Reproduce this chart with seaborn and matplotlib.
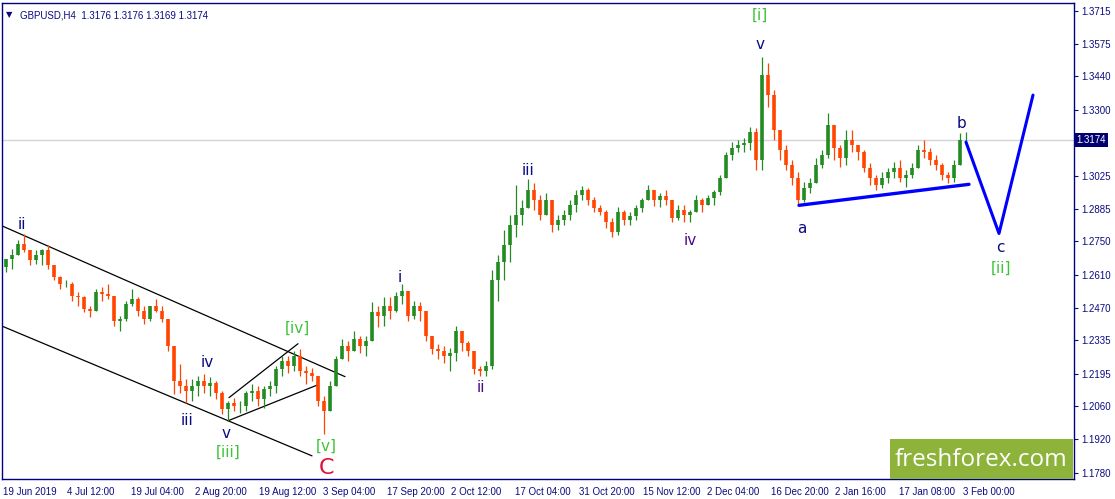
import numpy as np
import pandas as pd
import matplotlib
matplotlib.use("Agg")
import matplotlib.pyplot as plt
from matplotlib.patches import Rectangle
import seaborn as sns

# GBPUSD H4, grouped into blocks of 6 bars (one trading day)
first_open = 1.2640
high = [1.2677, 1.2719, 1.2753, 1.2778, 1.2711, 1.2711, 1.2715, 1.2732, 1.2652, 1.2602,
        1.2589, 1.2577, 1.2535, 1.2522, 1.2480, 1.2551, 1.2556, 1.2572, 1.2522, 1.2438,
        1.2501, 1.2551, 1.2514, 1.2480, 1.2480, 1.2509, 1.2476, 1.2425, 1.2312, 1.2236,
        1.2173, 1.2173, 1.2186, 1.2194, 1.2182, 1.2165, 1.2123, 1.2081, 1.2094, 1.2081,
        1.2123, 1.2152, 1.2144, 1.2144, 1.2165, 1.2228, 1.2270, 1.2270, 1.2291, 1.2299,
        1.2228, 1.2220, 1.2186, 1.2102, 1.2165, 1.2270, 1.2341, 1.2333, 1.2375, 1.2354,
        1.2354, 1.2493, 1.2480, 1.2514, 1.2514, 1.2535, 1.2572, 1.2522, 1.2501, 1.2493,
        1.2409, 1.2354, 1.2320, 1.2312, 1.2304, 1.2396, 1.2354, 1.2333, 1.2291, 1.2228,
        1.2249, 1.2627, 1.2690, 1.2795, 1.2858, 1.2984, 1.2921, 1.3009, 1.2992, 1.2942,
        1.2950, 1.2900, 1.2858, 1.2879, 1.2921, 1.2963, 1.2980, 1.2971, 1.2934, 1.2900,
        1.2879, 1.2845, 1.2892, 1.2879, 1.2871, 1.2900, 1.2929, 1.2984, 1.2963, 1.2950,
        1.2963, 1.2921, 1.2900, 1.2900, 1.2879, 1.2942, 1.2929, 1.2942, 1.2963, 1.3026,
        1.3123, 1.3165, 1.3173, 1.3181, 1.3228, 1.3223, 1.3522, 1.3496, 1.3383, 1.3215,
        1.3152, 1.3089, 1.3039, 1.2997, 1.3013, 1.3097, 1.3131, 1.3286, 1.3236, 1.3152,
        1.3215, 1.3215, 1.3152, 1.3131, 1.3076, 1.3026, 1.3039, 1.3055, 1.3081, 1.3089,
        1.3047, 1.3076, 1.3152, 1.3173, 1.3139, 1.3110, 1.3076, 1.3039, 1.3089, 1.3202,
        1.3207]
low = [1.2619, 1.2635, 1.2690, 1.2703, 1.2652, 1.2656, 1.2652, 1.2635, 1.2585, 1.2551,
       1.2556, 1.2501, 1.2480, 1.2451, 1.2430, 1.2480, 1.2501, 1.2509, 1.2396, 1.2375,
       1.2417, 1.2480, 1.2438, 1.2404, 1.2417, 1.2451, 1.2409, 1.2291, 1.2110, 1.2115,
       1.2073, 1.2081, 1.2102, 1.2115, 1.2102, 1.2089, 1.2026, 1.1997, 1.2039, 1.2031,
       1.2039, 1.2081, 1.2060, 1.2052, 1.2102, 1.2115, 1.2186, 1.2199, 1.2207, 1.2186,
       1.2152, 1.2165, 1.2060, 1.1942, 1.2039, 1.2144, 1.2270, 1.2249, 1.2312, 1.2283,
       1.2270, 1.2333, 1.2388, 1.2396, 1.2425, 1.2451, 1.2488, 1.2417, 1.2425, 1.2417,
       1.2333, 1.2278, 1.2257, 1.2241, 1.2207, 1.2249, 1.2291, 1.2270, 1.2194, 1.2186,
       1.2186, 1.2215, 1.2501, 1.2585, 1.2661, 1.2766, 1.2816, 1.2900, 1.2879, 1.2837,
       1.2871, 1.2787, 1.2795, 1.2816, 1.2837, 1.2871, 1.2921, 1.2900, 1.2871, 1.2858,
       1.2803, 1.2766, 1.2774, 1.2816, 1.2816, 1.2837, 1.2871, 1.2921, 1.2896, 1.2892,
       1.2900, 1.2829, 1.2837, 1.2829, 1.2829, 1.2871, 1.2871, 1.2900, 1.2900, 1.2942,
       1.3013, 1.3089, 1.3123, 1.3123, 1.3131, 1.3047, 1.3047, 1.3312, 1.3173, 1.3089,
       1.3047, 1.2984, 1.2900, 1.2913, 1.2950, 1.2992, 1.3055, 1.3097, 1.3089, 1.3060,
       1.3068, 1.3123, 1.3089, 1.3039, 1.2984, 1.2963, 1.2971, 1.2992, 1.3013, 1.2997,
       1.2976, 1.3013, 1.3055, 1.3097, 1.3068, 1.3047, 1.3005, 1.2992, 1.2997, 1.3068,
       1.3160]
close = [1.2677, 1.2690, 1.2740, 1.2711, 1.2669, 1.2690, 1.2711, 1.2648, 1.2598, 1.2572,
         1.2572, 1.2522, 1.2514, 1.2467, 1.2459, 1.2535, 1.2530, 1.2518, 1.2417, 1.2425,
         1.2488, 1.2509, 1.2459, 1.2425, 1.2476, 1.2459, 1.2425, 1.2312, 1.2165, 1.2144,
         1.2123, 1.2144, 1.2165, 1.2144, 1.2157, 1.2115, 1.2047, 1.2073, 1.2060, 1.2060,
         1.2115, 1.2123, 1.2089, 1.2131, 1.2144, 1.2215, 1.2249, 1.2228, 1.2270, 1.2207,
         1.2199, 1.2186, 1.2081, 1.2039, 1.2144, 1.2257, 1.2312, 1.2291, 1.2341, 1.2312,
         1.2333, 1.2451, 1.2438, 1.2480, 1.2459, 1.2518, 1.2543, 1.2438, 1.2480, 1.2459,
         1.2354, 1.2299, 1.2291, 1.2270, 1.2283, 1.2375, 1.2325, 1.2291, 1.2215, 1.2207,
         1.2228, 1.2585, 1.2661, 1.2732, 1.2816, 1.2858, 1.2887, 1.2963, 1.2921, 1.2858,
         1.2921, 1.2816, 1.2837, 1.2858, 1.2900, 1.2942, 1.2963, 1.2921, 1.2887, 1.2871,
         1.2829, 1.2787, 1.2871, 1.2837, 1.2854, 1.2887, 1.2921, 1.2963, 1.2921, 1.2938,
         1.2921, 1.2845, 1.2879, 1.2858, 1.2871, 1.2921, 1.2900, 1.2929, 1.2955, 1.3013,
         1.3110, 1.3139, 1.3152, 1.3160, 1.3207, 1.3089, 1.3446, 1.3362, 1.3215, 1.3131,
         1.3068, 1.3013, 1.2921, 1.2971, 1.2992, 1.3068, 1.3110, 1.3236, 1.3139, 1.3097,
         1.3173, 1.3152, 1.3123, 1.3055, 1.3013, 1.2984, 1.3013, 1.3039, 1.3055, 1.3013,
         1.3026, 1.3055, 1.3131, 1.3123, 1.3089, 1.3068, 1.3026, 1.3013, 1.3068, 1.3173,
         1.3174]

date_labels = ["19 Jun 2019", "4 Jul 12:00", "19 Jul 04:00", "2 Aug 20:00", "19 Aug 12:00",
               "3 Sep 04:00", "17 Sep 20:00", "2 Oct 12:00", "17 Oct 04:00", "31 Oct 20:00",
               "15 Nov 12:00", "2 Dec 04:00", "16 Dec 20:00", "2 Jan 16:00", "17 Jan 08:00",
               "3 Feb 00:00"]
price_ticks = [1.3715, 1.3575, 1.3440, 1.3300, 1.3025, 1.2885, 1.2750, 1.2610,
               1.2470, 1.2335, 1.2195, 1.2060, 1.1920, 1.1780]
last_price = 1.3174
header = "GBPUSD,H4  1.3176 1.3176 1.3169 1.3174"

# trend lines drawn on the chart (bar index, price)
channel_top = ([0, 342], [1.2812, 1.2182])
channel_bottom = ([0, 309], [1.2392, 1.1850])
wedge_top = ([226, 295], [1.2094, 1.2320])
wedge_bottom = ([225, 315], [1.1997, 1.2148])
abc_base = ([796, 966], [1.2900, 1.2988])
projection = ([963, 996, 1030], [1.3165, 1.2782, 1.3362])

BARS_PER_BLOCK = 6
NAVY = "#0b0b80"
LIME = "#3ec43a"
GREEN_UP = "#228b22"
RED_DOWN = "#ff4500"

df = pd.DataFrame({"high": high, "low": low, "close": close})
df["open"] = [first_open] + close[:-1]
df["x"] = np.arange(len(df)) * BARS_PER_BLOCK + 3
df["top"] = df[["high", "open", "close"]].max(axis=1)
df["bottom"] = df[["low", "open", "close"]].min(axis=1)
df["color"] = np.where(df["close"] >= df["open"], GREEN_UP, RED_DOWN)

sns.set_style("white")
plt.rcParams["font.family"] = ["Liberation Sans", "DejaVu Sans"]

fig = plt.figure(figsize=(11.15, 4.99), dpi=100)
ax = fig.add_axes([2 / 1115, 20 / 499, 1072 / 1115, 476 / 499])

# current price line
ax.axhline(last_price, color="#d4d4d4", lw=1, zorder=1)

# candles: wick + body
ax.vlines(df["x"], df["bottom"], df["top"], colors=df["color"], lw=0.9, zorder=3)
ax.vlines(df["x"], df[["open", "close"]].min(axis=1), df[["open", "close"]].max(axis=1),
          colors=df["color"], lw=2.6, zorder=3)

# wave construction lines
for xs, ys in [channel_top, channel_bottom, wedge_top, wedge_bottom]:
    sns.lineplot(x=xs, y=ys, ax=ax, color="black", lw=0.9, zorder=2)
sns.lineplot(x=abc_base[0], y=abc_base[1], ax=ax, color="#0000ff", lw=2.4, zorder=4)
sns.lineplot(x=projection[0], y=projection[1], ax=ax, color="#0000ff", lw=2.2, zorder=4, sort=False)

# Elliott wave labels
wave_labels = [
    ("ii", 19, 1.2820, NAVY, 11), ("iv", 204, 1.2241, NAVY, 11), ("iii", 184, 1.1997, NAVY, 11),
    ("v", 223, 1.1942, NAVY, 11), ("[iii]", 225, 1.1867, LIME, 11),
    ("[iv]", 294, 1.2383, LIME, 11), ("[v]", 323, 1.1888, LIME, 11),
    ("C", 323, 1.1800, "#e0103a", 16), ("i", 397, 1.2598, NAVY, 11),
    ("ii", 478, 1.2136, "#4b0a8c", 11), ("iii", 525, 1.3047, NAVY, 11),
    ("iv", 687, 1.2753, "#4b0a8c", 11), ("[i]", 757, 1.3698, LIME, 11),
    ("v", 757, 1.3572, NAVY, 11), ("a", 799, 1.2803, NAVY, 11), ("b", 958, 1.3244, NAVY, 11),
    ("c", 997, 1.2724, NAVY, 11), ("[ii]", 998, 1.2635, LIME, 11),
]
for txt, bx, py, col, fs in wave_labels:
    ax.text(bx, py, txt, color=col, fontsize=fs, ha="center", va="center", zorder=5,
            family=["DejaVu Sans"])

# header
ax.text(0.004, 0.985, "\u25bc", transform=ax.transAxes, fontsize=6, color=NAVY, va="top",
        family=["DejaVu Sans"])
ax.text(0.017, 0.985, header, transform=ax.transAxes, fontsize=7, color=NAVY, va="top")

# watermark
ax.add_patch(Rectangle((0.8285, 0.0), 0.1705, 0.083, transform=ax.transAxes,
                       fc="#8db33b", ec="none", zorder=6))
ax.text(0.9137, 0.040, "freshforex.com", transform=ax.transAxes, fontsize=17.5, color="white",
        ha="center", va="center", family=["Open Sans", "DejaVu Sans"], zorder=7)

ax.set_xlim(-1, 1071)
ax.set_ylim(1.1753, 1.3748)

ax.yaxis.tick_right()
ax.set_yticks(price_ticks + [last_price])
ax.set_yticklabels([f"{p:.4f}" for p in price_ticks] + [""])
ax.tick_params(axis="y", direction="out", length=3, width=0.8, colors=NAVY, labelsize=7, pad=2)
ax.text(1.0025, last_price, f"{last_price:.4f}", transform=ax.get_yaxis_transform(),
        fontsize=7, color="white", va="center", ha="left",
        bbox=dict(boxstyle="square,pad=0.2", fc="#00006e", ec="none"))

ax.set_xticks(np.arange(len(date_labels)) * 64)
ax.set_xticklabels(date_labels, ha="left")
ax.tick_params(axis="x", direction="out", length=4, width=0.8, colors=NAVY, labelsize=7, pad=2)

for sp in ax.spines.values():
    sp.set_color("#000080")
    sp.set_linewidth(1.0)
ax.set_xlabel("")
ax.set_ylabel("")

fig.savefig("out.png", dpi=100)
